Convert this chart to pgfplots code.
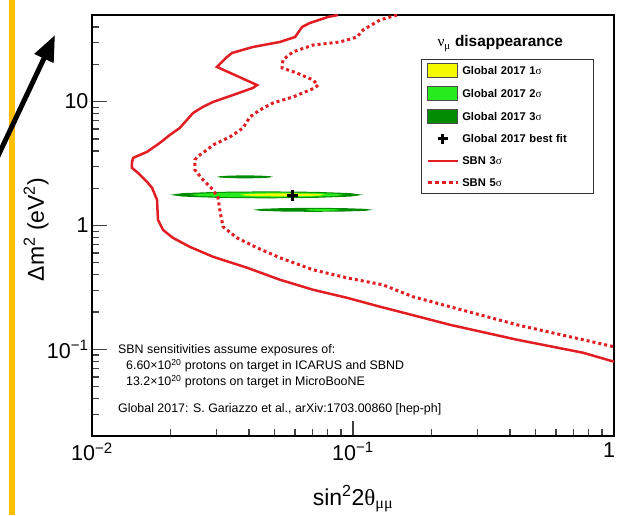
\documentclass[border=0pt]{standalone}
\usepackage{fontspec}
\setmainfont{Liberation Sans}
\newfontfamily\grk{Liberation Serif}
\usepackage{pgfplots}
\pgfplotsset{compat=1.18}
\usetikzlibrary{arrows.meta}

\definecolor{sbnred}{RGB}{225,30,35}
\definecolor{gone}{RGB}{245,250,0}
\definecolor{gtwo}{RGB}{40,235,30}
\definecolor{gthree}{RGB}{0,140,0}
\definecolor{orangebar}{RGB}{255,192,0}

\pgfplotsset{
  swatch/.style={legend image code/.code={\draw[##1] (0pt,-7pt) rectangle (30pt,7pt);}},
  linesw/.style={legend image code/.code={\path[draw=none,fill=none] (0pt,-7pt) rectangle (30pt,7pt); \draw[##1] (0pt,0pt) -- (30pt,0pt);}},
  marksw/.style={legend image code/.code={\path[draw=none,fill=none] (0pt,-7pt) rectangle (30pt,7pt); \draw[##1] plot coordinates {(15pt,0pt)};}},
}

\begin{document}
\begin{tikzpicture}
\path[use as bounding box, clip] (-92pt,-79pt) rectangle (526pt,436pt);
\fill[orangebar] (-83pt,-79pt) rectangle (-77pt,436pt);
\draw[line width=5pt, -{Triangle[length=26pt,width=20pt]}] (-102pt,263pt) -- (-37pt,401pt);
\begin{axis}[
  at={(0pt,0pt)}, anchor=south west,
  width=522pt, height=421pt, scale only axis,
  xmode=log, ymode=log,
  xmin=0.01, xmax=1, ymin=0.02, ymax=50,
  xtick={0.01,0.1,1},
  xticklabels={10\textsuperscript{−2},10\textsuperscript{−1},{\kern-10pt 1}},
  ytick={0.1,1,10},
  yticklabels={10\textsuperscript{−1},1,10},
  minor xtick={0.02,0.03,0.04,0.05,0.06,0.07,0.08,0.09,0.2,0.3,0.4,0.5,0.6,0.7,0.8,0.9},
  minor ytick={0.03,0.04,0.05,0.06,0.07,0.08,0.09,0.2,0.3,0.4,0.5,0.6,0.7,0.8,0.9,2,3,4,5,6,7,8,9,20,30,40},
  tick pos=left,
  tick align=inside,
  major tick length=15pt, minor tick length=7.5pt,
  every tick/.style={black!75, line width=1.3pt},
  axis line style={line width=2pt, black},
  ticklabel style={font=\fontsize{21.5}{24}\selectfont},
  xticklabel style={yshift=-3pt},
  xlabel={sin\textsuperscript{2}2{\grk θ}\textsubscript{\grk μμ}},
  xlabel style={at={(axis description cs:0.5,-0.164)}, anchor=base, font=\fontsize{23}{26}\selectfont},
  ylabel={Δm\textsuperscript{2} (eV\textsuperscript{2})},
  ylabel style={at={(axis description cs:-0.107,0.49)}, anchor=center, font=\fontsize{23}{26}\selectfont},
  legend cell align=left,
  legend style={at={(axis description cs:0.630,0.8955)}, anchor=north west,
    draw=black!80, line width=0.8pt, fill=white,
    font=\bfseries\fontsize{11.2}{13}\selectfont,
    inner xsep=5pt, inner ysep=4pt, row sep=8pt,
    nodes={inner xsep=3pt, inner ysep=1.5pt, text height=8.2pt, text depth=0pt, text width=123pt}},
]
% Global 2017 3 sigma
\addplot[fill=gthree, draw=none, forget plot] coordinates {
(0.1092,1.768) (0.0975,1.826) (0.0714,1.870) (0.0466,1.886) (0.0305,1.870) (0.0223,1.826)
(0.0199,1.768) (0.0223,1.711) (0.0305,1.671) (0.0466,1.656) (0.0714,1.671) (0.0975,1.711)} -- cycle;
\addplot[fill=gthree, draw=none, forget plot] coordinates {
(0.0494,2.47) (0.0477,2.503) (0.0436,2.529) (0.0386,2.539) (0.0341,2.529) (0.0311,2.503)
(0.0301,2.47) (0.0311,2.435) (0.0341,2.410) (0.0386,2.401) (0.0436,2.410) (0.0477,2.435)} -- cycle;
\addplot[fill=gthree, draw=none, forget plot] coordinates {
(0.1193,1.338) (0.1112,1.363) (0.0916,1.382) (0.0703,1.388) (0.0539,1.382) (0.0444,1.363)
(0.0414,1.338) (0.0444,1.313) (0.0539,1.296) (0.0703,1.289) (0.0916,1.296) (0.1112,1.313)} -- cycle;
% 2 sigma
\addplot[fill=gtwo, draw=none, forget plot] coordinates {
(0.0932,1.768) (0.0850,1.809) (0.0662,1.841) (0.0470,1.852) (0.0334,1.841) (0.0260,1.809)
(0.0237,1.768) (0.0260,1.727) (0.0334,1.698) (0.0470,1.687) (0.0662,1.698) (0.0850,1.727)} -- cycle;
\addplot[fill=gtwo, draw=none, forget plot] coordinates {
(0.0892,1.338) (0.0874,1.350) (0.0825,1.359) (0.0764,1.363) (0.0707,1.359) (0.0668,1.350)
(0.0655,1.338) (0.0668,1.326) (0.0707,1.316) (0.0764,1.313) (0.0825,1.316) (0.0874,1.326)} -- cycle;
% 1 sigma
\addplot[fill=gone, draw=none, forget plot] coordinates {
(0.0781,1.768) (0.0743,1.792) (0.0648,1.811) (0.0537,1.818) (0.0445,1.811) (0.0388,1.792)
(0.0369,1.768) (0.0388,1.744) (0.0445,1.725) (0.0537,1.719) (0.0648,1.725) (0.0743,1.744)} -- cycle;
% SBN 3 sigma
\addplot[sbnred, line width=2.5pt, forget plot] coordinates {
(0.0876,50) (0.0802,48.2) (0.0684,43.1) (0.0638,40.0) (0.0600,33.2) (0.0525,30.3) (0.0414,27.6)
(0.0344,24.7) (0.0329,22.9) (0.0301,19.05) (0.0429,13.6) (0.0414,12.9) (0.0347,11.3) (0.0291,9.94)
(0.0266,9.06) (0.0244,8.10) (0.0217,6.13) (0.0199,5.39) (0.0182,4.64) (0.01625,3.93) (0.01436,3.51)
(0.01423,3.20) (0.01423,2.92) (0.0150,2.66) (0.01625,2.25) (0.0170,2.01) (0.01775,1.61) (0.0179,1.11)
(0.0187,0.923) (0.0204,0.796) (0.0237,0.673) (0.0291,0.559) (0.0393,0.456) (0.0525,0.365)
(0.0703,0.303) (0.0948,0.261) (0.127,0.221) (0.1514,0.201) (0.2352,0.158) (0.425,0.1197) (0.761,0.0940) (1,0.0796)};
% SBN 5 sigma
\addplot[sbnred, line width=3pt, dash pattern=on 3pt off 3pt, forget plot] coordinates {
(0.1475,50) (0.1269,45.6) (0.1092,37.8) (0.1036,33.2) (0.0892,30.3) (0.0703,28.6) (0.0589,25.2)
(0.0539,21.7) (0.0535,18.7) (0.0610,17.0) (0.0703,14.96) (0.0734,13.6) (0.0715,12.9) (0.0589,10.9)
(0.0494,9.76) (0.0440,8.57) (0.0403,7.52) (0.0379,6.13) (0.0338,5.19) (0.0291,4.47) (0.0276,4.08)
(0.0253,3.58) (0.0248,3.39) (0.0248,2.81) (0.0266,2.34) (0.0291,1.94) (0.0304,1.67) (0.0310,1.265)
(0.0318,0.976) (0.0359,0.796) (0.0429,0.661) (0.0525,0.549) (0.0703,0.439) (0.0948,0.378)
(0.1302,0.332) (0.170,0.266) (0.2352,0.221) (0.425,0.158) (0.761,0.1197) (1,0.105)};
% best fit
\addplot[only marks, mark=+, mark size=5.5pt, line width=3pt, black, forget plot] coordinates {(0.0589,1.76)};

\addlegendimage{swatch, fill=gone, draw=black!70, line width=0.8pt}
\addlegendentry{Global 2017 1{\mdseries\grk σ}}
\addlegendimage{swatch, fill=gtwo, draw=black!70, line width=0.8pt}
\addlegendentry{Global 2017 2{\mdseries\grk σ}}
\addlegendimage{swatch, fill=gthree, draw=black!70, line width=0.8pt}
\addlegendentry{Global 2017 3{\mdseries\grk σ}}
\addlegendimage{marksw, only marks, mark=+, mark size=5pt, line width=2.8pt, black}
\addlegendentry{Global 2017 best fit}
\addlegendimage{linesw, sbnred, line width=2.5pt}
\addlegendentry{SBN 3{\mdseries\grk σ}}
\addlegendimage{linesw, sbnred, line width=3pt, dash pattern=on 4pt off 3pt}
\addlegendentry{SBN 5{\mdseries\grk σ}}

\node[font=\bfseries\fontsize{15.4}{17}\selectfont] at (axis description cs:0.782,0.932)
  {{\mdseries\grk ν}\textsubscript{\mdseries\grk μ} disappearance};

\node[anchor=base west, font=\fontsize{12.4}{14}\selectfont, inner sep=0pt] at (axis description cs:0.0498,0.197)
  {SBN sensitivities assume exposures of:};
\node[anchor=base west, font=\fontsize{12.4}{14}\selectfont, inner sep=0pt] at (axis description cs:0.0651,0.157)
  {6.60×10\textsuperscript{20} protons on target in ICARUS and SBND};
\node[anchor=base west, font=\fontsize{12.4}{14}\selectfont, inner sep=0pt] at (axis description cs:0.0651,0.1195)
  {13.2×10\textsuperscript{20} protons on target in MicroBooNE};
\node[anchor=base west, font=\fontsize{12.4}{14}\selectfont, inner sep=0pt] at (axis description cs:0.0498,0.0553)
  {Global 2017: S. Gariazzo et al., arXiv:1703.00860 [hep-ph]};
\end{axis}
\end{tikzpicture}
\end{document}
